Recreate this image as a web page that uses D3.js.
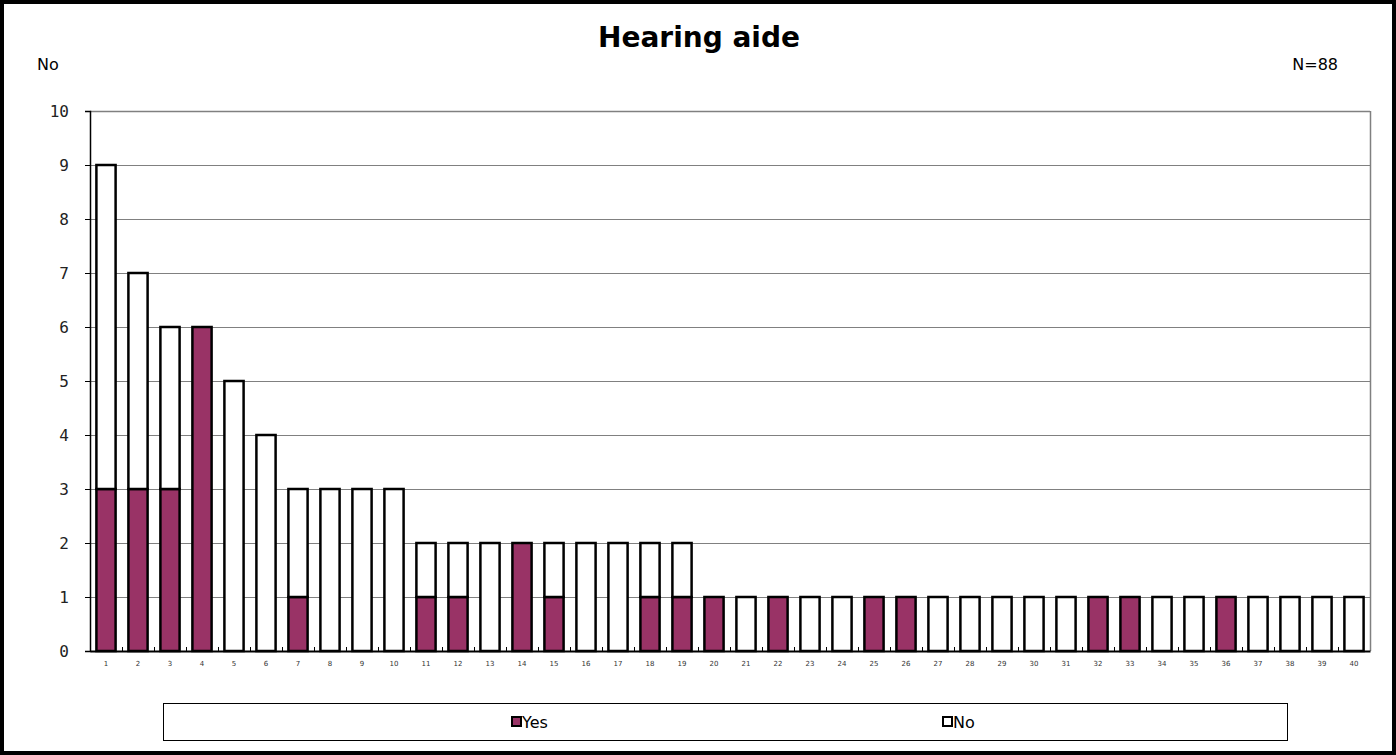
<!DOCTYPE html>
<html><head><meta charset="utf-8">
<script src="https://cdn.jsdelivr.net/npm/d3@7"></script>
<style>body{margin:0;background:#fff}svg{display:block}</style>
</head><body>
<svg id="c" width="1396" height="755"></svg>
<script>
const categories = d3.range(1, 41).map(String);
const yesValues = [3,3,3,6,0,0,1,0,0,0,1,1,0,2,1,0,0,1,1,1,0,1,0,0,1,1,0,0,0,0,0,1,1,0,0,1,0,0,0,0];
const noValues  = [6,4,3,0,5,4,2,3,3,3,1,1,2,0,1,2,2,1,1,0,1,0,1,1,0,0,1,1,1,1,1,0,0,1,1,0,1,1,1,1];
const yTicks = d3.range(0, 11);
const seriesNames = ["Yes", "No"];
const seriesColors = ["#993366", "#ffffff"];

const svg = d3.select("#c");
const W = 1396, H = 755;
const m = {left: 90, right: 1370, top: 111, bottom: 651};

svg.append("rect").attr("x", 2).attr("y", 2).attr("width", W - 4).attr("height", H - 4)
  .attr("fill", "#fff").attr("stroke", "#000").attr("stroke-width", 4);

const x = d3.scaleBand().domain(categories).range([m.left, m.right]).paddingInner(0.4).paddingOuter(0.2);
const xb = d3.scaleBand().domain(categories).range([m.left, m.right]);
const y = d3.scaleLinear().domain([0, 10]).range([m.bottom, m.top]);

// gridlines
svg.append("g").selectAll("line").data(yTicks.filter(d => d > 0)).join("line")
  .attr("x1", m.left).attr("x2", m.right)
  .attr("y1", d => y(d) + 0.5).attr("y2", d => y(d) + 0.5)
  .attr("stroke", "#808080").attr("stroke-width", 1);
svg.append("line").attr("x1", m.right + 0.5).attr("x2", m.right + 0.5).attr("y1", m.top).attr("y2", m.bottom)
  .attr("stroke", "#808080").attr("stroke-width", 1.5);
svg.append("line").attr("x1", m.left).attr("x2", m.right).attr("y1", m.top + 0.5).attr("y2", m.top + 0.5)
  .attr("stroke", "#808080").attr("stroke-width", 1.5);

const table = categories.map((c, i) => ({cat: c, Yes: yesValues[i], No: noValues[i]}));
const stack = d3.stack().keys(seriesNames)(table);

svg.append("g").selectAll("g").data(stack).join("g")
  .attr("fill", (d, i) => seriesColors[i])
  .selectAll("rect").data(d => d.filter(p => p[1] > p[0])).join("rect")
  .attr("x", d => x(d.data.cat))
  .attr("width", x.bandwidth())
  .attr("y", d => y(d[1]))
  .attr("height", d => y(d[0]) - y(d[1]))
  .attr("stroke", "#000").attr("stroke-width", 2.5);

const ya = svg.append("g").attr("transform", `translate(${m.left},0)`)
  .call(d3.axisLeft(y).tickValues(yTicks).tickSize(5).tickPadding(16).tickFormat(d3.format("d")));
ya.select(".domain").attr("stroke", "#000").attr("stroke-width", 1.5);
ya.selectAll(".tick line").attr("stroke", "#000");
ya.selectAll("text").attr("font-family", "DejaVu Sans Mono").attr("font-size", 16).attr("fill", "#222");

const xa = svg.append("g").attr("transform", `translate(0,${m.bottom})`)
  .call(d3.axisBottom(xb).tickSize(0).tickPadding(10));
xa.select(".domain").attr("stroke", "#000").attr("stroke-width", 2);
xa.selectAll("text").attr("font-family", "DejaVu Sans").attr("font-size", 7).attr("fill", "#333");
svg.append("g").selectAll("line").data(categories.slice(1)).join("line")
  .attr("x1", d => xb(d) + 0.5).attr("x2", d => xb(d) + 0.5)
  .attr("y1", m.bottom - 4).attr("y2", m.bottom)
  .attr("stroke", "#000").attr("stroke-width", 1);

svg.append("text").attr("x", 699).attr("y", 47).attr("text-anchor", "middle")
  .attr("font-family", "DejaVu Sans").attr("font-weight", "bold").attr("font-size", 28).text("Hearing aide");
svg.append("text").attr("x", 37).attr("y", 70)
  .attr("font-family", "DejaVu Sans").attr("font-size", 16).text("No");
svg.append("text").attr("x", 1338).attr("y", 70).attr("text-anchor", "end")
  .attr("font-family", "DejaVu Sans").attr("font-size", 16).text("N=88");

svg.append("rect").attr("x", 163.5).attr("y", 703.5).attr("width", 1124).attr("height", 37)
  .attr("fill", "#fff").attr("stroke", "#000").attr("stroke-width", 1);
const legX = [512, 943];
const lg = svg.append("g").selectAll("g").data(seriesNames).join("g")
  .attr("transform", (d, i) => `translate(${legX[i]},722)`);
lg.append("rect").attr("x", 0).attr("y", -5).attr("width", 9).attr("height", 9)
  .attr("fill", (d, i) => seriesColors[i]).attr("stroke", "#000").attr("stroke-width", 2);
lg.append("text").attr("x", 10).attr("y", 6).attr("font-family", "DejaVu Sans").attr("font-size", 16).text(d => d);
</script>
</body></html>
